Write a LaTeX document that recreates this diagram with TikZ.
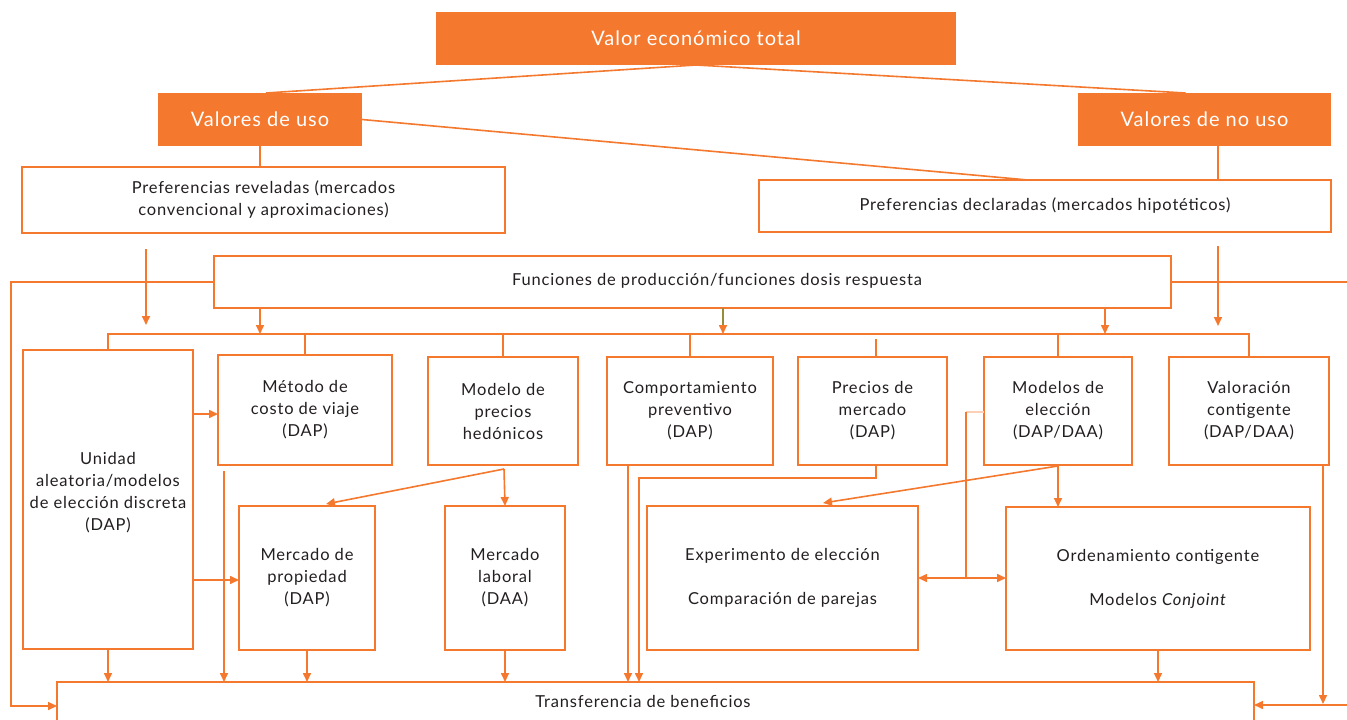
\documentclass[tikz,border=0pt]{standalone}
\usepackage{fontspec}
\setmainfont{Lato}[LetterSpace=5]
\usetikzlibrary{arrows.meta}
\definecolor{org}{RGB}{244,121,46}
\definecolor{txt}{RGB}{35,31,32}
\definecolor{olv}{RGB}{150,140,60}
\begin{document}
\begin{tikzpicture}[x=1pt,y=-1pt,
  box/.style={draw=org, line width=1.8pt, fill=white, inner sep=0pt, outer sep=0pt, align=center, text=txt, font=\fontsize{16.5}{22}\selectfont},
  obox/.style={fill=org, inner sep=0pt, outer sep=0pt, text=white, font=\fontsize{20}{22}\selectfont},
  lbl/.style={inner sep=0pt, text=txt, font=\fontsize{16.5}{22}\selectfont},
  con/.style={draw=org, line width=1.6pt},
  arr/.style={con, -{Triangle[length=9pt,width=8pt]}},
]
\useasboundingbox (0,0) rectangle (1347,720);

% top level
\node[obox, minimum width=520pt, minimum height=53pt] (vet) at (696,38.5) {Valor económico total};
\node[obox, minimum width=204pt, minimum height=53pt] (uso) at (260,119.5) {Valores de uso};
\node[obox, minimum width=253pt, minimum height=53pt] (nouso) at (1204.5,119.5) {Valores de no uso};

\node[box, minimum width=483pt, minimum height=66pt] (prev) at (263.5,200) {Preferencias reveladas (mercados\\convencional y aproximaciones)};
\node[box, minimum width=572pt, minimum height=52pt] (pdecl) at (1045,206) {Preferencias declaradas (mercados hipotéticos)};

\node[box, minimum width=957pt, minimum height=52pt] (func) at (692.5,282) {};
\node[lbl] (funclbl) at (717,281) {Funciones de producción/funciones dosis respuesta};

% row of methods
\node[box, minimum width=170pt, minimum height=299pt] (unidad) at (108,499.5) {Unidad\\aleatoria/modelos\\de elección discreta\\(DAP)\\[-6pt]};
\node[box, minimum width=174pt, minimum height=110pt] (metodo) at (305,410) {Método de\\costo de viaje\\(DAP)};
\node[box, minimum width=150pt, minimum height=108pt] (hedon) at (503,411) {Modelo de\\precios\\hedónicos};
\node[box, minimum width=166pt, minimum height=108pt] (comport) at (690,411) {Comportamiento\\preventivo\\(DAP)};
\node[box, minimum width=149pt, minimum height=108pt] (precios) at (872.5,411) {Precios de\\mercado\\(DAP)};
\node[box, minimum width=148pt, minimum height=108pt] (eleccion) at (1058,411) {Modelos de\\elección\\(DAP/DAA)};
\node[box, minimum width=160pt, minimum height=108pt] (valor) at (1249,411) {Valoración\\contigente\\(DAP/DAA)};

% lower row
\node[box, minimum width=136pt, minimum height=144pt] (propiedad) at (307,578) {Mercado de\\propiedad\\(DAP)};
\node[box, minimum width=120pt, minimum height=144pt] (laboral) at (505,578) {Mercado\\laboral\\(DAA)};
\node[box, minimum width=271pt, minimum height=144pt] (experimento) at (782.5,578) {Experimento de elección\\[22pt]Comparación de parejas};
\node[box, minimum width=304pt, minimum height=143pt] (ordenamiento) at (1158,578.5) {Ordenamiento contigente\\[22pt]Modelos \textit{Conjoint}};

\node[box, minimum width=1197pt, minimum height=58pt] (transfer) at (655.5,711) {};
\node[lbl] (translbl) at (643,701) {Transferencia de beneficios};

% coordinates
\coordinate (bus) at (108,334);
\coordinate (fa1) at (146,249);
\coordinate (fa2) at (1218,246);
\coordinate (L1) at (11,282);
\coordinate (L2) at (11,706);
\coordinate (R1) at (1356,282);
\coordinate (R2) at (1356,705);
\coordinate (pgap) at (876,339);
\coordinate (h0) at (504,469);
\coordinate (fa3) at (224,471);
\coordinate (pm1) at (876,478);
\coordinate (pm2) at (639,478);
\coordinate (e0) at (1058,466);
\coordinate (t1) at (966,412);
\coordinate (t2) at (966,578);

% top connectors
\draw[con] (vet.south) -- ([xshift=6pt]uso.north);
\draw[con] (vet.south) -- ([xshift=-19pt]nouso.north);
\draw[con] (uso.east) -- ([xshift=-17pt]pdecl.north);
\draw[con] (uso.south) -- (uso.south |- prev.north);
\draw[con] ([xshift=13.5pt]nouso.south) -- ([xshift=13.5pt]nouso.south |- pdecl.north);

% free arrows to bus
\draw[arr] (fa1) -- (146,325);
\draw[arr] (fa2) -- (1218,326);

% func to bus
\draw[arr] (func.south -| uso.south) -- (bus -| uso.south);
\draw[con, draw=olv, -{Triangle[length=9pt,width=8pt,color=org,fill=org]}] (func.south -| 723,0) -- (bus -| 723,0);
\draw[arr] (func.south -| 1105,0) -- (bus -| 1105,0);

% bus line and drops
\draw[con] (unidad.north) -- (bus) -| (valor.north);
\draw[con] (metodo.north) -- (metodo.north |- bus);
\draw[con] (hedon.north) -- (hedon.north |- bus);
\draw[con] (comport.north) -- (comport.north |- bus);
\draw[con] (pgap) -- (pgap |- precios.north);
\draw[con] (eleccion.north) -- (eleccion.north |- bus);

% side loops
\draw[arr] (func.west) -- (L1) -- (L2) -- (L2 -| transfer.west);
\draw[arr] (func.east) -- (R1) -- (R2) -- (R2 -| transfer.east);
\draw[arr] (valor.south -| 1323,0) -- (1323,704);

% unidad arrows
\draw[arr] (unidad.east |- 0,414) -- (metodo.west |- 0,414);
\draw[arr] (unidad.east |- 0,580) -- (propiedad.west |- 0,580);
\draw[arr] (fa3) -- (fa3 |- transfer.north);

% hedonic
\draw[arr] (h0) -- ([xshift=19pt,yshift=2pt]propiedad.north);
\draw[arr] (h0) -- (laboral.north);

% precios / comportamiento
\draw[arr] (comport.south -| 628,0) -- (transfer.north -| 628,0);
\draw[arr] (pgap |- precios.south) -- (pm1) -- (pm2) -- (pm2 |- transfer.north);

% eleccion
\draw[arr] (e0) -- (e0 |- ordenamiento.north);
\draw[arr] (e0) -- ([xshift=40.5pt,yshift=3pt]experimento.north);
\draw[con, draw=org!35] (eleccion.west |- t1) -- (t1);
\draw[con] (t1) -- (t2);
\draw[arr] (t2) -- (t2 -| experimento.east);
\draw[arr] (t2) -- (t2 -| ordenamiento.west);

% to transfer
\draw[arr] (unidad.south) -- (unidad.south |- transfer.north);
\draw[arr] (propiedad.south) -- (propiedad.south |- transfer.north);
\draw[arr] (laboral.south) -- (laboral.south |- transfer.north);
\draw[arr] (ordenamiento.south) -- (ordenamiento.south |- transfer.north);
\end{tikzpicture}
\end{document}
